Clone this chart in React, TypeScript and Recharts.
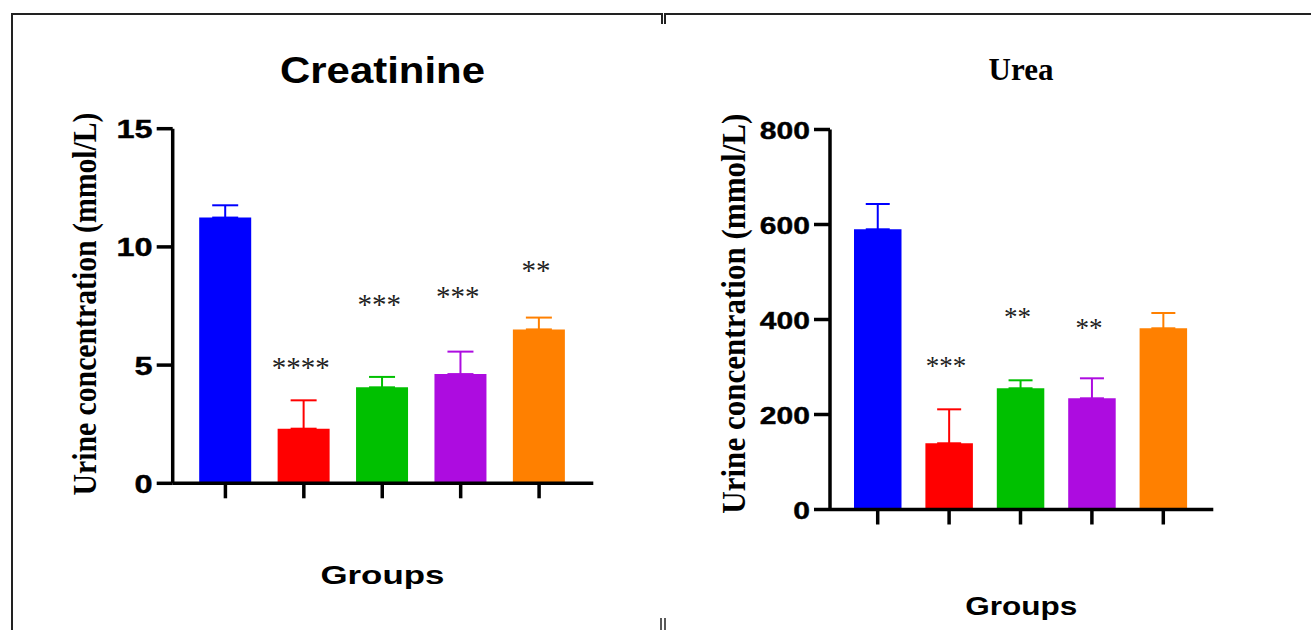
// Urine creatinine and urea by group, two bar panels with one-sided SD whiskers.
import { ComposedChart, Bar, ErrorBar, XAxis, YAxis, Scatter } from 'recharts';

const groups = ['G1', 'G2', 'G3', 'G4', 'G5'];
const barColors = ['#0000ff', '#ff0000', '#00c000', '#ad0ce0', '#ff8000'];

const creatMean = [11.24, 2.31, 4.06, 4.62, 6.51];
const creatSd = [0.52, 1.2, 0.44, 0.95, 0.5];
const creatStars = ['', '****', '***', '***', '**'];
const creatStarY = [null, 5.08, 7.73, 8.07, 9.18];
const creatTicks = [0, 5, 10, 15];

const ureaMean = [589.9, 139.4, 255.2, 234.1, 381.5];
const ureaSd = [53.3, 71.5, 16.8, 42.1, 32.2];
const ureaStars = ['', '***', '**', '**', ''];
const ureaStarY = [null, 310.5, 412.2, 389.0, null];
const ureaTicks = [0, 200, 400, 600, 800];

const SANS = "'Liberation Sans', Arial, sans-serif";
const SERIF = "'Liberation Serif', 'Times New Roman', serif";

// one stacked series per group so every bar and whisker gets its own colour
function buildRows(mean: number[], sd: number[], stars: string[], starY: (number | null)[]) {
  return groups.map((g, i) => {
    const row: Record<string, unknown> = { group: g, star: starY[i], stars: stars[i] };
    groups.forEach((_, j) => {
      row['v' + j] = j === i ? mean[i] : 0;
      row['e' + j] = j === i ? [0, sd[i]] : null;
    });
    return row;
  });
}

function makeYTick(fontSize: number, stretch: number, dy: number) {
  return (props: any) => {
    const { x, y, payload } = props;
    return (
      <text
        x={x}
        y={y + dy}
        textAnchor="end"
        fontFamily={SANS}
        fontWeight="bold"
        fontSize={fontSize}
        fill="#000"
        stroke="#000"
        strokeWidth={0.4}
        transform={`translate(${x} 0) scale(${stretch} 1) translate(${-x} 0)`}
      >
        {payload.value}
      </text>
    );
  };
}

function makeStar(fontSize: number) {
  return (props: any) => {
    const { cx, cy, payload } = props;
    if (!payload?.stars || cy == null || cx == null) return <g />;
    return (
      <text
        x={cx - 3}
        y={cy + fontSize * 0.47}
        textAnchor="middle"
        fontFamily={SERIF}
        fontSize={fontSize}
        fill="#222"
      >
        {payload.stars}
      </text>
    );
  };
}

interface PanelProps {
  left: number;
  width: number;
  plotLeft: number;
  plotRight: number;
  plotTop: number;
  plotBottom: number;
  rows: Record<string, unknown>[];
  domain: [number, number];
  ticks: number[];
  barSize: number;
  capHalf: number;
  padL: number;
  padR: number;
  tickFont: number;
  tickStretch: number;
  tickDy: number;
  starFont: number;
}

function Panel(p: PanelProps) {
  const axisStyle = { stroke: '#000', strokeWidth: 3.5 };
  const xh = 30;
  return (
    <div style={{ position: 'absolute', left: p.left, top: 0 }}>
      <ComposedChart
        width={p.width}
        height={630}
        data={p.rows}
        margin={{
          top: p.plotTop,
          left: 0,
          right: p.left + p.width - p.plotRight,
          bottom: 630 - p.plotBottom - xh,
        }}
      >
        <XAxis
          dataKey="group"
          type="category"
          height={xh}
          interval={0}
          padding={{ left: p.padL, right: p.padR }}
          axisLine={axisStyle}
          tickLine={{ stroke: '#000', strokeWidth: 3.5 }}
          tickSize={15}
          tick={() => <g />}
        />
        <YAxis
          type="number"
          width={p.plotLeft - p.left}
          domain={p.domain}
          ticks={p.ticks}
          interval={0}
          axisLine={axisStyle}
          tickLine={{ stroke: '#000', strokeWidth: 3.5 }}
          tickSize={16}
          tickMargin={4}
          tick={makeYTick(p.tickFont, p.tickStretch, p.tickDy)}
        />
        {groups.map((g, j) => (
          <Bar
            key={g}
            dataKey={'v' + j}
            stackId="s"
            fill={barColors[j]}
            barSize={p.barSize}
            isAnimationActive={false}
          >
            <ErrorBar
              dataKey={'e' + j}
              direction="y"
              width={p.capHalf}
              stroke={barColors[j]}
              strokeWidth={2}
              isAnimationActive={false}
            />
          </Bar>
        ))}
        <Scatter dataKey="star" shape={makeStar(p.starFont)} isAnimationActive={false} />
      </ComposedChart>
    </div>
  );
}

export default function App() {
  const creatRows = buildRows(creatMean, creatSd, creatStars, creatStarY);
  const ureaRows = buildRows(ureaMean, ureaSd, ureaStars, ureaStarY);
  return (
    <div style={{ position: 'absolute', left: 0, top: 0, width: 1311, height: 630, background: '#fff', overflow: 'hidden' }}>
      <Panel
        left={0}
        width={662}
        plotLeft={172.7}
        plotRight={593.3}
        plotTop={128.7}
        plotBottom={483.3}
        rows={creatRows}
        domain={[0, 15]}
        ticks={creatTicks}
        barSize={52}
        capHalf={13}
        padL={13.5}
        padR={15}
        tickFont={25}
        tickStretch={1.3}
        tickDy={9.6}
        starFont={29}
      />
      <Panel
        left={662}
        width={649}
        plotLeft={830}
        plotRight={1213.3}
        plotTop={129.5}
        plotBottom={509.5}
        rows={ureaRows}
        domain={[0, 800]}
        ticks={ureaTicks}
        barSize={47.5}
        capHalf={12}
        padL={12}
        padR={14.3}
        tickFont={23.5}
        tickStretch={1.28}
        tickDy={9.5}
        starFont={27}
      />
      <svg
        width={1311}
        height={630}
        style={{ position: 'absolute', left: 0, top: 0, pointerEvents: 'none' }}
      >
        <path d="M12,630 V14 H662 V24" fill="none" stroke="#222" strokeWidth={2} />
        <path d="M665,24 V14 H1311" fill="none" stroke="#222" strokeWidth={2} />
        <line x1={661} y1={618} x2={661} y2={630} stroke="#222" strokeWidth={1.5} />
        <line x1={665} y1={618} x2={665} y2={630} stroke="#222" strokeWidth={1.5} />

        <text x={382.5} y={83.3} textAnchor="middle" fontFamily={SANS} fontWeight="bold" fontSize={36}
          textLength={205} lengthAdjust="spacingAndGlyphs">Creatinine</text>
        <text x={1021} y={80} textAnchor="middle" fontFamily={SERIF} fontWeight="bold" fontSize={31}>Urea</text>

        <text x={382.4} y={583.5} textAnchor="middle" fontFamily={SANS} fontWeight="bold" fontSize={26}
          textLength={124} lengthAdjust="spacingAndGlyphs">Groups</text>
        <text x={1021.3} y={615} textAnchor="middle" fontFamily={SANS} fontWeight="bold" fontSize={25.5}
          textLength={112} lengthAdjust="spacingAndGlyphs">Groups</text>

        <text transform="translate(95.5 304) rotate(-90)" textAnchor="middle" fontFamily={SERIF}
          fontWeight="bold" fontSize={33} textLength={383} lengthAdjust="spacingAndGlyphs">
          Urine concentration (mmol/L)
        </text>
        <text transform="translate(744.5 313.7) rotate(-90)" textAnchor="middle" fontFamily={SERIF}
          fontWeight="bold" fontSize={33} textLength={400} lengthAdjust="spacingAndGlyphs">
          Urine concentration (mmol/L)
        </text>
      </svg>
    </div>
  );
}
